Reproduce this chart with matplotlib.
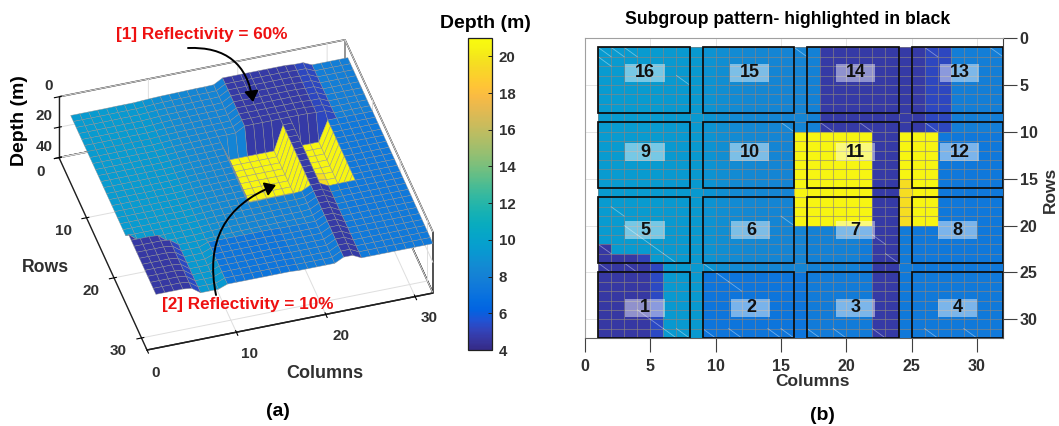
import numpy as np
import matplotlib
matplotlib.use("Agg")
import matplotlib.pyplot as plt
from matplotlib.colors import LinearSegmentedColormap, Normalize
from matplotlib.patches import Rectangle, FancyArrowPatch
from matplotlib.text import Text
from matplotlib.transforms import Affine2D
from mpl_toolkits.mplot3d import proj3d

plt.rcParams['font.family'] = ['Liberation Sans', 'DejaVu Sans']
plt.rcParams['font.weight'] = 'bold'

W, H = 1059, 426

# ---------------- data ----------------
ROW_COUNT = 32
COLUMN_DEPTH = [9.5, 9.5, 9.5, 9.5, 9.5, 9.4, 9.4, 9.4,
                9.1, 8.8, 8.6, 8.5, 8.4, 8.3, 8.2, 8.2,
                8.0, 8.0, 8.0, 8.0, 8.0, 8.0, 8.0, 8.0,
                8.0, 7.9, 7.9, 7.8, 7.8, 7.8, 7.8, 7.8]
# (first row, last row, first column, last column, depth)
DEPTH_REGIONS = [
    (17, 24, 21, 32, 7.6),
    (10, 24, 25, 32, 7.4),
    (25, 32, 9, 16, 7.2),
    (25, 32, 17, 21, 7.6),
    (25, 32, 24, 32, 7.5),
    (1, 9, 18, 25, 4.7),
    (1, 9, 26, 27, 5.2),
    (10, 32, 22, 23, 4.7),
    (22, 22, 1, 1, 4.6),
    (23, 24, 1, 4, 4.6),
    (23, 23, 4, 4, 5.0),
    (24, 24, 5, 5, 5.2),
    (25, 32, 1, 4, 4.6),
    (25, 32, 5, 5, 5.3),
    (10, 19, 16, 21, 20.6),
    (10, 19, 24, 26, 20.6),
    (15, 19, 24, 24, 19.6),
]
COLUMN_TICKS = [0, 10, 20, 30]
ROW_TICKS = [0, 10, 20, 30]
DEPTH_TICKS = [0, 20, 40]
FLAT_X_TICKS = [0, 5, 10, 15, 20, 25, 30]
FLAT_Y_TICKS = [0, 5, 10, 15, 20, 25, 30]
CBAR_TICKS = [4, 6, 8, 10, 12, 14, 16, 18, 20]
DEPTH_MIN, DEPTH_MAX = 4, 21

GROUP_NUMBERS = [[16, 15, 14, 13], [9, 10, 11, 12], [5, 6, 7, 8], [1, 2, 3, 4]]
GROUP_COL_SPANS = [(1, 8), (9, 16), (17, 24), (25, 32)]
GROUP_ROW_SPANS = [(1, 8), (9, 16), (17, 24), (25, 32)]
LABEL_COLS = [[4.6, 12.6, 20.7, 28.7], [4.6, 12.6, 20.7, 28.7],
              [4.6, 12.7, 20.7, 28.5], [4.6, 12.7, 20.7, 28.5]]
LABEL_ROWS = [3.7, 12.2, 20.5, 28.8]

# mesh cells (column, row) whose faint white diagonal shows in the flat view
DIAGONAL_CELLS = [(1, 1), (2, 1), (3, 1), (1, 2), (7, 4), (16, 1), (26, 1), (31, 1), (15, 9),
                  (18, 9), (21, 9), (26, 9), (2, 18), (3, 20), (4, 21), (5, 22), (6, 23),
                  (1, 22), (1, 24), (3, 24), (9, 24), (10, 25), (11, 26), (15, 19),
                  (5, 30), (6, 31), (4, 29), (7, 31), (9, 31), (11, 31), (14, 31), (15, 31),
                  (22, 21), (23, 23), (17, 31), (19, 31), (26, 31), (29, 31), (22, 31)]

PARULA = [(0.2081, 0.1663, 0.5292), (0.2123, 0.2138, 0.6270), (0.1959, 0.2645, 0.7279),
          (0.1253, 0.3242, 0.8303), (0.0117, 0.3875, 0.8820), (0.0165, 0.4266, 0.8786),
          (0.0498, 0.4586, 0.8641), (0.0723, 0.4887, 0.8467), (0.0793, 0.5200, 0.8312),
          (0.0641, 0.5570, 0.8240), (0.0343, 0.5966, 0.8199), (0.0239, 0.6287, 0.8038),
          (0.0228, 0.6535, 0.7768), (0.0384, 0.6743, 0.7436), (0.0843, 0.6928, 0.7062),
          (0.1453, 0.7098, 0.6646), (0.2178, 0.7250, 0.6193), (0.3022, 0.7376, 0.5712),
          (0.3953, 0.7459, 0.5244), (0.4871, 0.7491, 0.4840), (0.5709, 0.7485, 0.4494),
          (0.6473, 0.7456, 0.4188), (0.7184, 0.7411, 0.3905), (0.7858, 0.7356, 0.3633),
          (0.8507, 0.7299, 0.3360), (0.9139, 0.7258, 0.3063), (0.9739, 0.7314, 0.2666),
          (0.9990, 0.7653, 0.2164), (0.9880, 0.8066, 0.1794), (0.9697, 0.8481, 0.1475),
          (0.9589, 0.8949, 0.1132), (0.9661, 0.9514, 0.0755), (0.9763, 0.9831, 0.0538)]
parula = LinearSegmentedColormap.from_list('parula', PARULA)
norm = Normalize(DEPTH_MIN, DEPTH_MAX)

depth = np.tile(np.array(COLUMN_DEPTH, float), (ROW_COUNT, 1))
for r0, r1, c0, c1, v in DEPTH_REGIONS:
    depth[r0 - 1:r1, c0 - 1:c1] = v
nodes = np.arange(1, ROW_COUNT + 1)
X, Y = np.meshgrid(nodes, nodes)

# ---------------- figure ----------------
fig = plt.figure(figsize=(W / 100, H / 100), dpi=100, facecolor='white')


def px_rect(x0, y0, x1, y1):
    return [x0 / W, 1 - y1 / H, (x1 - x0) / W, (y1 - y0) / H]


def ptext(x, y, s, **kw):
    kw.setdefault('ha', 'center')
    kw.setdefault('va', 'center')
    kw.setdefault('fontweight', 'bold')
    return fig.text(x / W, 1 - y / H, s, **kw)


TICK_GREY = '#303030'
EDGE_GREY = (0.56, 0.56, 0.56, 0.75)
MESH_GREY = (0.55, 0.52, 0.50, 0.62)

# ---------------- (a) 3-D surface ----------------
plt.rcParams['grid.color'] = '#dedede'
plt.rcParams['grid.linewidth'] = 0.7
ax3 = fig.add_axes([0.0, 0.0, 0.45, 1.0], projection='3d', proj_type='ortho')
ax3.patch.set_alpha(0)
ax3.set_xlim(0, 32)
ax3.set_ylim(32, 0)
ax3.set_zlim(40, 0)
ax3.view_init(elev=41.3, azim=253.2)
ax3.set_box_aspect((298.8, 304.5, 81))
ax3.plot_surface(X, Y, depth, facecolors=parula(norm(depth)), rstride=1, cstride=1,
                 shade=False, edgecolor=EDGE_GREY, linewidth=0.4, antialiased=True)
ax3.set_xticks(COLUMN_TICKS)
ax3.set_yticks(ROW_TICKS)
ax3.set_zticks(DEPTH_TICKS)
for axis in (ax3.xaxis, ax3.yaxis, ax3.zaxis):
    axis.set_pane_color((1, 1, 1, 1))
    axis.pane.set_edgecolor('#202020')
    axis.pane.set_linewidth(1.1)
    axis.line.set_color('#202020')
    axis.line.set_linewidth(1.0)
    axis._axinfo['tick']['color'] = '#606060'
ax3.tick_params(labelsize=11, labelcolor=TICK_GREY, pad=3)

# nudge of each tick label, pixels right / up
LABEL_NUDGES = [(ax3.xaxis, [(3, 2), (7, 3), (9, 3), (8, 3)]),
                (ax3.yaxis, [(2, 1), (-3, 2), (-3, 2), (-3, 2)]),
                (ax3.zaxis, [(16, 8), (11, 9), (11, 8)])]
for axis, nudges in LABEL_NUDGES:
    for tick, (dx, dy) in zip(axis.get_major_ticks(), nudges):
        lab = tick.label1
        shift = Affine2D().translate(dx, dy)
        lab.set_transform = (lambda l, s: lambda t: Text.set_transform(l, t + s))(lab, shift)

# fit the projected box onto its place in the picture
TARGET = {'xmin': 59, 'xmax': 433, 'ymin': 38, 'ymax': 350}
def box_extent():
    fig.canvas.draw()
    pts = []
    for cx in (0, 32):
        for cy in (0, 32):
            for cz in (0, 40):
                xs, ys, _ = proj3d.proj_transform(cx, cy, cz, ax3.get_proj())
                pts.append(ax3.transData.transform((xs, ys)))
    pts = np.array(pts)
    return pts[:, 0].min(), pts[:, 0].max(), H - pts[:, 1].max(), H - pts[:, 1].min()

x0, x1, y0, y1 = box_extent()
scale = (TARGET['xmax'] - TARGET['xmin']) / (x1 - x0)
p = ax3.get_position()
side_px = p.width * W * scale
ax3.set_position([p.x0, p.y0, side_px / W, side_px / H])
x0, x1, y0, y1 = box_extent()
p = ax3.get_position()
ax3.set_position([p.x0 + (TARGET['xmin'] - x0) / W,
                  p.y0 - (TARGET['ymax'] - y1) / H, p.width, p.height])

ptext(20, 121, 'Depth (m)', rotation=90, fontsize=14, color='black')
ptext(45, 268, 'Rows', fontsize=12.7, color='#303030')
ptext(325, 373, 'Columns', fontsize=13, color='#303030')
ptext(278, 411, '(a)', fontsize=14, color='black')
ptext(202, 35, '[1] Reflectivity = 60%', fontsize=12.3, color='#ee1111')
ptext(248, 305, '[2] Reflectivity = 10%', fontsize=12.3, color='#ee1111')


def curved(p0, p1, rad):
    fig.add_artist(FancyArrowPatch(
        (p0[0] / W, 1 - p0[1] / H), (p1[0] / W, 1 - p1[1] / H),
        transform=fig.transFigure, connectionstyle=f'arc3,rad={rad}',
        arrowstyle='-|>,head_length=4,head_width=2.6', mutation_scale=1.6,
        color='black', linewidth=1.4, zorder=10, shrinkA=0, shrinkB=0))


curved((188, 48), (253, 102), -0.45)
curved((216, 295), (276, 185), -0.42)

# ---------------- colour bar ----------------
cax = fig.add_axes(px_rect(468, 38, 492, 350))
sm = plt.cm.ScalarMappable(norm=norm, cmap=parula)
cb = fig.colorbar(sm, cax=cax)
cb.set_ticks(CBAR_TICKS)
cb.ax.tick_params(direction='in', length=3, width=0.7, labelsize=10.8, labelcolor=TICK_GREY,
                  color='#202020', pad=5)
cb.outline.set_edgecolor('#202020')
cb.outline.set_linewidth(0.9)
ptext(485, 24, 'Depth (m)', fontsize=14, color='black')

# ---------------- (b) flat view ----------------
ax2 = fig.add_axes(px_rect(585, 38, 1003, 338))
ax2.set_xlim(0, 32)
ax2.set_ylim(32, 0)
ax2.grid(True, color='#e4e4e4', linewidth=0.7, zorder=0)
ax2.set_axisbelow(True)
ax2.pcolormesh(X, Y, depth[:-1, :-1], cmap=parula, norm=norm, shading='flat',
               edgecolors='none', antialiased=False, zorder=1)
ax2.vlines(nodes, nodes[0], nodes[-1], colors=[MESH_GREY], linewidth=0.75, zorder=1.5)
ax2.hlines(nodes, nodes[0], nodes[-1], colors=[MESH_GREY], linewidth=0.75, zorder=1.5)
for c, r in DIAGONAL_CELLS:
    ax2.plot([c, c + 1], [r, r + 1], color='white', alpha=0.4, linewidth=0.6, zorder=2)
ax2.set_xticks(FLAT_X_TICKS)
ax2.set_yticks(FLAT_Y_TICKS)
ax2.yaxis.tick_right()
ax2.tick_params(axis='both', direction='out', length=10, width=0.8, color='#404040',
                labelsize=11.5, labelcolor=TICK_GREY)
ax2.tick_params(axis='x', pad=5)
ax2.tick_params(axis='y', pad=2)
ax2.spines['top'].set_color('#a0a0a0')
ax2.spines['left'].set_color('#a0a0a0')
ax2.spines['right'].set_color('#404040')
ax2.spines['bottom'].set_color('#606060')

for i, (r0, r1) in enumerate(GROUP_ROW_SPANS):
    for j, (c0, c1) in enumerate(GROUP_COL_SPANS):
        ax2.add_patch(Rectangle((c0, r0), c1 - c0, r1 - r0, fill=False, edgecolor='#0a0a0a',
                                linewidth=1.25, zorder=4))
        cx, cy = LABEL_COLS[i][j], LABEL_ROWS[i]
        ax2.add_patch(Rectangle((cx - 1.5, cy - 0.95), 3.0, 1.9, facecolor='white', alpha=0.45,
                                edgecolor='none', zorder=5))
        ax2.text(cx, cy, str(GROUP_NUMBERS[i][j]), ha='center', va='center', fontsize=13,
                 fontweight='bold', color='#101010', zorder=6)

ptext(788, 19, 'Subgroup pattern- highlighted in black', fontsize=12.7, color='black')
ptext(812, 381, 'Columns', fontsize=12.5, color='#303030')
ptext(1050, 190, 'Rows', rotation=90, fontsize=12.5, color='#303030')
ptext(822, 415, '(b)', fontsize=14, color='black')

fig.savefig('out.png', dpi=100)
